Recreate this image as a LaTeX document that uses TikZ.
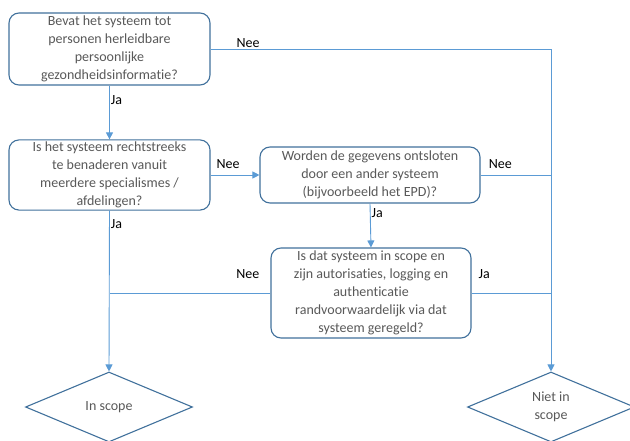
\documentclass[tikz,border=0pt]{standalone}
\usepackage{fontspec}
\setmainfont{Carlito}[Ligatures=NoCommon]
\usetikzlibrary{positioning,arrows.meta,shapes.geometric}
\definecolor{randblauw}{HTML}{41719C}
\definecolor{lijnblauw}{HTML}{5B9BD5}
\definecolor{tekstgrijs}{HTML}{595959}
\tikzset{
  vraag/.style={draw=randblauw, line width=1.1pt, rounded corners=10pt, fill=white,
    text=tekstgrijs, align=center, inner sep=2pt, font=\fontsize{14}{18}\selectfont},
  uitkomst/.style={diamond, draw=randblauw, line width=1.1pt, fill=white, text=tekstgrijs,
    align=center, inner sep=0pt, minimum width=167pt, minimum height=70pt,
    font=\fontsize{14}{18}\selectfont},
  verbinding/.style={draw=lijnblauw, line width=0.9pt},
  pijl/.style={verbinding, -{Triangle[length=7pt,width=7pt]}},
  antw/.style={text=black, inner sep=1pt, font=\fontsize{14}{17}\selectfont}
}

\begin{document}
\begin{tikzpicture}[x=1pt, y=-1pt]
    \clip (0,0) rectangle (630,441);

    \node[vraag, minimum width=201pt, minimum height=72pt] (v1) at (109.5,49)
      {Bevat het systeem tot\\personen herleidbare\\persoonlijke\\gezondheidsinformatie?};
    \node[vraag, minimum width=201pt, minimum height=70pt] (v2) at (109.5,175)
      {Is het systeem rechtstreeks\\te benaderen vanuit\\meerdere specialismes /\\afdelingen?};
    \node[vraag, minimum width=220pt, minimum height=56pt] (v3) at (370,175)
      {Worden de gegevens ontsloten\\door een ander systeem\\(bijvoorbeeld het EPD)?};
    \node[vraag, minimum width=200pt, minimum height=90pt] (v4) at (371,293)
      {Is dat systeem in scope en\\zijn autorisaties, logging en\\authenticatie\\randvoorwaardelijk via dat\\systeem geregeld?};

    \node[uitkomst] (inscope) at (109,407) {In scope};
    \node[uitkomst] (nietscope) at (551,407) {Niet in\\scope};

    \coordinate (k1) at (nietscope.north |- v1.east);
    \coordinate (k2) at (nietscope.north |- v3.east);
    \coordinate (k3) at (nietscope.north |- v4.east);
    \coordinate (k4) at (v2.south |- v4.west);

    \draw[pijl] (v1.south) -- node[antw, right, pos=0.27] {Ja} (v2.north);
    \draw[pijl] (v2.east) -- node[antw, above=5pt, pos=0.36] {Nee} (v3.west);
    \draw[pijl] (v3.south) -- node[antw, right, pos=0.22] {Ja} (v4.north);
    \draw[pijl] (v2.south) -- node[antw, right, pos=0.086] {Ja} (inscope.north);
    \draw[pijl] (v1.east) -- node[antw, above, pos=0.11] {Nee} (k1) -- (nietscope.north);

    \draw[verbinding] (v3.east) -- node[antw, above=5pt, pos=0.28] {Nee} (k2);
    \draw[verbinding] (v4.west) -- node[antw, above=13pt, pos=0.14] {Nee} (k4);
    \draw[verbinding] (v4.east) -- node[antw, above=13pt, pos=0.16] {Ja} (k3);

\end{tikzpicture}
\end{document}
